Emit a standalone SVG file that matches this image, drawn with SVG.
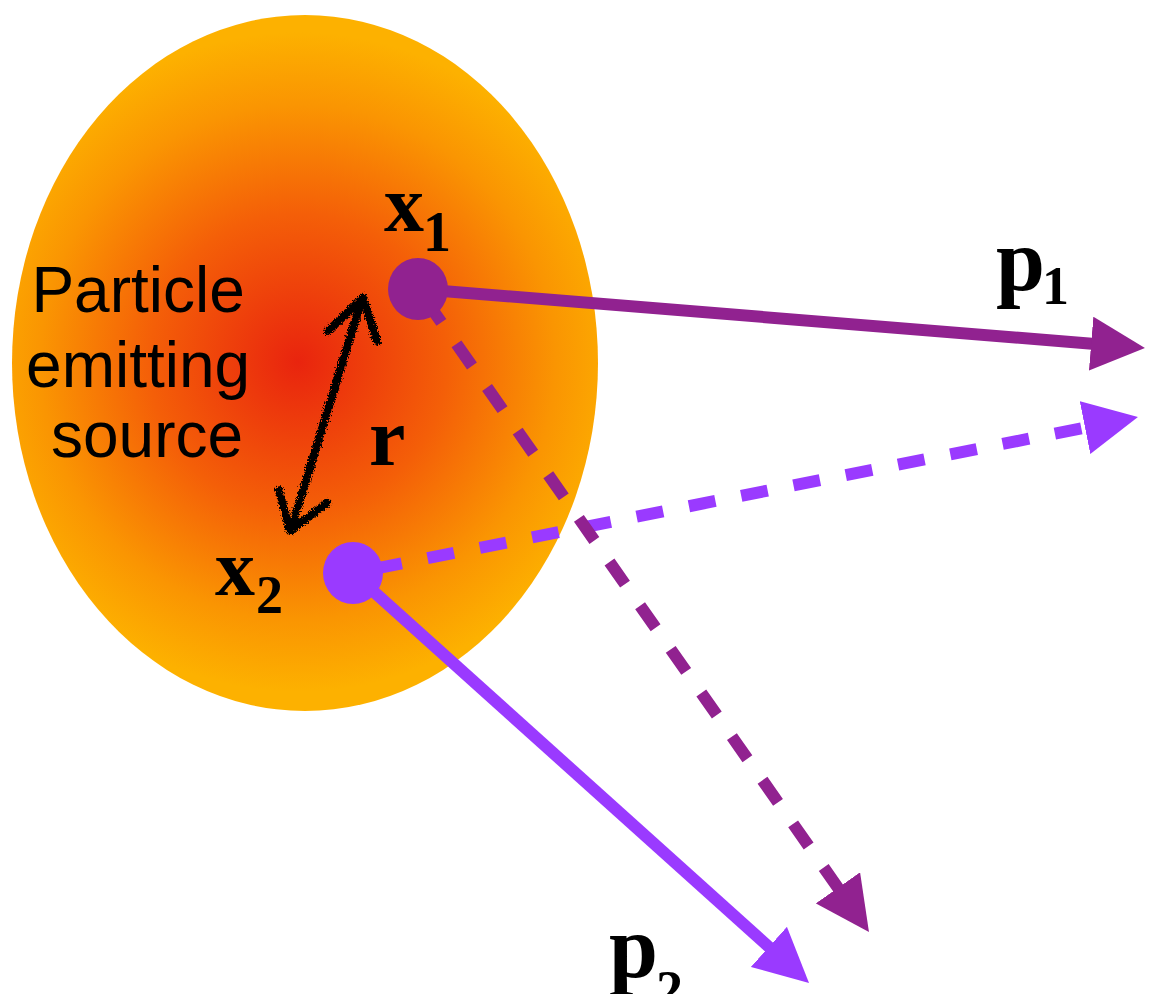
<svg xmlns="http://www.w3.org/2000/svg" width="1153" height="994" viewBox="0 0 1153 994">
  <defs>
    <radialGradient id="srcGrad" gradientUnits="userSpaceOnUse" cx="298" cy="362" r="330">
      <stop offset="0" stop-color="#e9240e"/>
      <stop offset="0.45" stop-color="#f45f08"/>
      <stop offset="0.78" stop-color="#fa9502"/>
      <stop offset="1" stop-color="#fdb100"/>
    </radialGradient>
    <marker id="headDark" markerUnits="userSpaceOnUse" markerWidth="54" markerHeight="54" viewBox="0 0 54 54" refX="10" refY="27" orient="auto">
      <path d="M0,0 L54,27 L0,54 Z" fill="#912290"/>
    </marker>
    <marker id="headLight" markerUnits="userSpaceOnUse" markerWidth="54" markerHeight="54" viewBox="0 0 54 54" refX="10" refY="27" orient="auto">
      <path d="M0,0 L54,27 L0,54 Z" fill="#9a3aff"/>
    </marker>
    <filter id="rough" x="-20%" y="-20%" width="140%" height="140%">
      <feTurbulence type="fractalNoise" baseFrequency="0.7" numOctaves="2" seed="3" result="n"/>
      <feDisplacementMap in="SourceGraphic" in2="n" scale="7" xChannelSelector="R" yChannelSelector="G"/>
    </filter>
    <style>
      .dark { stroke: #912290; stroke-width: 12; fill: none; }
      .light { stroke: #9a3aff; stroke-width: 12; fill: none; }
      .dash { stroke-dasharray: 27 26.3; }
      .sans { font-family: "Liberation Sans", Arial, sans-serif; font-size: 64px; fill: #000; }
      .lbl { font-family: "Liberation Serif", "Times New Roman", serif; font-weight: bold; fill: #000; }
    </style>
  </defs>

  <g id="source">
    <ellipse cx="305" cy="363" rx="293" ry="348" fill="url(#srcGrad)"/>
    <text class="sans" text-anchor="middle">
      <tspan x="147" y="312">Particle</tspan>
      <tspan x="147" y="387">emitting</tspan>
      <tspan x="147" y="457">source</tspan>
    </text>
  </g>

  <g id="r-separation">
    <g filter="url(#rough)" stroke="#000" stroke-width="8" fill="none" stroke-linecap="round" stroke-linejoin="round">
      <path d="M292,526 L361,302"/>
      <path d="M328,331 L363,298 L377,341"/>
      <path d="M279,490 L290,531 L327,503"/>
    </g>
    <text class="lbl" x="369" y="465" font-size="82">r</text>
  </g>

  <g id="connectors">
    <line class="light dash" x1="353" y1="573" x2="1094.8" y2="425.6" stroke-dashoffset="30.6" marker-end="url(#headLight)"/>
    <line class="light" x1="353" y1="573" x2="776.3" y2="953.6" marker-end="url(#headLight)"/>
    <line class="dark" x1="418" y1="289" x2="1101.1" y2="344.4" marker-end="url(#headDark)"/>
    <line class="dark dash" x1="418" y1="289" x2="843.7" y2="896" stroke-dashoffset="39.6" marker-end="url(#headDark)"/>
  </g>

  <g id="x1">
    <ellipse cx="418" cy="289" rx="30" ry="31" fill="#912290"/>
    <text class="lbl" x="384" y="231" font-size="80">x</text>
    <text class="lbl" x="423" y="251" font-size="56">1</text>
  </g>

  <g id="x2">
    <ellipse cx="353" cy="573" rx="30" ry="31" fill="#9a3aff"/>
    <text class="lbl" x="215" y="595" font-size="80">x</text>
    <text class="lbl" x="256" y="613" font-size="54">2</text>
  </g>

  <g id="p1">
    <text class="lbl" x="996" y="290" font-size="88">p</text>
    <text class="lbl" x="1042" y="304" font-size="54">1</text>
  </g>

  <g id="p2">
    <text class="lbl" x="609" y="977" font-size="88">p</text>
    <text class="lbl" x="656" y="1008" font-size="54">2</text>
  </g>
</svg>
